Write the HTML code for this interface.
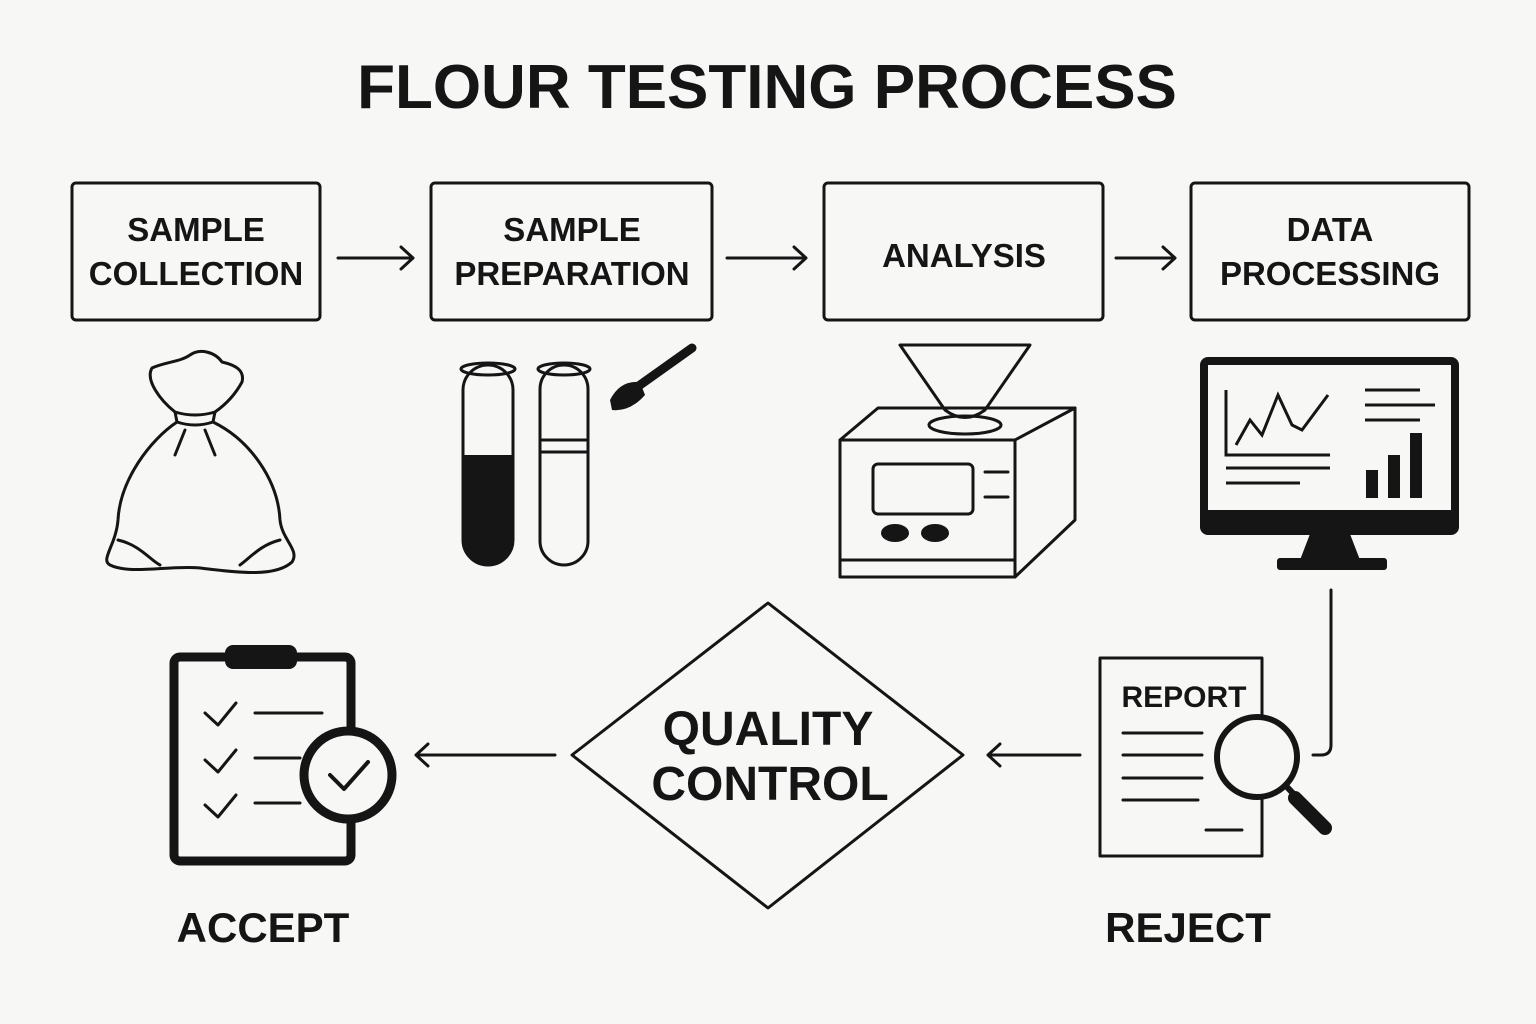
<!DOCTYPE html>
<html><head><meta charset="utf-8"><style>
html,body{margin:0;padding:0;background:#f7f7f6;}
svg{display:block}
text{font-family:"Liberation Sans",sans-serif;font-weight:bold;fill:#151515;text-anchor:middle}
</style></head><body>
<svg width="1536" height="1024" viewBox="0 0 1536 1024" xmlns="http://www.w3.org/2000/svg">
<rect width="1536" height="1024" fill="#f7f7f6"/>
<text x="767" y="108" font-size="62">FLOUR TESTING PROCESS</text>
<g fill="none" stroke="#151515" stroke-width="3">
<rect x="72" y="183" width="248" height="137" rx="4"/>
<rect x="431" y="183" width="281" height="137" rx="4"/>
<rect x="824" y="183" width="279" height="137" rx="4"/>
<rect x="1191" y="183" width="278" height="137" rx="4"/>
</g>
<g font-size="33">
<text x="196" y="241">SAMPLE</text><text x="196" y="285">COLLECTION</text>
<text x="572" y="241">SAMPLE</text><text x="572" y="285">PREPARATION</text>
<text x="964" y="267">ANALYSIS</text>
<text x="1330" y="241">DATA</text><text x="1330" y="285">PROCESSING</text>
</g>
<g fill="none" stroke="#151515" stroke-width="3" stroke-linecap="round" stroke-linejoin="round">
<path d="M338 258H413M401 247L413 258L401 269"/>
<path d="M727 258H806M794 247L806 258L794 269"/>
<path d="M1116 258H1175M1163 247L1175 258L1163 269"/>
<path d="M175 412C160 400 145 380 152 368C165 362 180 362 190 355C200 348 215 352 222 362C235 365 245 370 242 382C235 395 225 405 215 412"/>
<path d="M175 412Q195 418 215 412L213 422Q195 428 177 422Z"/>
<path d="M177 422C150 440 120 480 118 520C116 545 100 560 110 565C130 575 170 565 200 568C235 572 275 578 292 562C300 550 282 540 280 520C278 480 250 440 213 422"/>
<path d="M118 540C140 545 150 560 160 565M280 540C260 545 250 558 240 565M185 430L175 455M205 430L215 455"/>
<rect x="463" y="365" width="50" height="200" rx="25" ry="25"/>
<ellipse cx="488" cy="369" rx="27" ry="6"/>
<rect x="540" y="365" width="48" height="200" rx="24" ry="24"/>
<ellipse cx="564" cy="369" rx="26" ry="6"/>
<path d="M542 440H586M542 452H586"/>
<path d="M900 345H1030L985 410Q965 425 945 410Z"/>
<ellipse cx="965" cy="425" rx="36" ry="9"/>
<path d="M878 408H1075L1075 520L1015 577H840V440Z"/>
<path d="M840 440H1015V577M1015 440L1075 408"/>
<rect x="873" y="464" width="100" height="50" rx="5"/>
<path d="M985 472H1008M985 497H1008"/>
<path d="M840 560H1015"/>
<path d="M1331 590V745Q1331 755 1321 755H1313"/>
<path d="M1100 658H1262V856H1100Z"/>
<path d="M1123 733H1202M1123 755H1202M1123 778H1202M1123 800H1198M1206 830H1242"/>
<path d="M1080 755H988M1000 744L988 755L1000 766"/>
<path d="M555 755H416M428 744L416 755L428 766"/>
<path d="M768 603L963 755L768 908L572 755Z"/>
<path d="M205 713L218 725L236 703M205 760L218 772L236 750M205 805L218 817L236 795"/>
<path d="M255 713H322M255 758H300M255 803H300"/>
</g>
<path d="M463 455H513V540A25 25 0 0 1 463 540Z" fill="#151515"/>
<path d="M610 400Q620 380 640 382L645 395Q630 412 612 410Z" fill="#151515"/>
<path d="M640 385L692 348" stroke="#151515" stroke-width="9" stroke-linecap="round"/>
<ellipse cx="895" cy="533" rx="14" ry="9" fill="#151515"/>
<ellipse cx="935" cy="533" rx="14" ry="9" fill="#151515"/>
<rect x="1204" y="361" width="251" height="170" rx="4" fill="none" stroke="#151515" stroke-width="8"/>
<rect x="1204" y="510" width="251" height="24" fill="#151515"/>
<path d="M1310 534H1350L1360 560H1300Z" fill="#151515"/>
<rect x="1277" y="558" width="110" height="12" rx="3" fill="#151515"/>
<g fill="none" stroke="#151515" stroke-width="3">
<path d="M1226 390V455H1330M1226 468H1330M1226 483H1300"/>
<path d="M1236 445L1250 420L1262 435L1278 395L1292 425L1302 430L1328 395"/>
<path d="M1365 390H1420M1365 405H1435M1365 420H1420"/>
</g>
<rect x="1366" y="470" width="12" height="28" fill="#151515"/>
<rect x="1388" y="455" width="12" height="43" fill="#151515"/>
<rect x="1410" y="433" width="12" height="65" fill="#151515"/>
<text x="1184" y="707" font-size="30">REPORT</text>
<circle cx="1257" cy="757" r="40" fill="#f7f7f6" stroke="#151515" stroke-width="6"/>
<path d="M1287 787L1328 830" stroke="#151515" stroke-width="6"/>
<path d="M1295 798L1325 828" stroke="#151515" stroke-width="14" stroke-linecap="round"/>
<rect x="174" y="657" width="177" height="204" rx="6" fill="none" stroke="#151515" stroke-width="9"/>
<rect x="225" y="645" width="72" height="24" rx="8" fill="#151515"/>
<circle cx="348" cy="775" r="44" fill="#f7f7f6" stroke="#151515" stroke-width="9"/>
<path d="M330 775L344 789L368 762" fill="none" stroke="#151515" stroke-width="4" stroke-linecap="round" stroke-linejoin="round"/>
<text x="768" y="745" font-size="48">QUALITY</text>
<text x="770" y="800" font-size="48">CONTROL</text>
<text x="263" y="942" font-size="42">ACCEPT</text>
<text x="1188" y="942" font-size="42">REJECT</text>
</svg>
</body></html>
